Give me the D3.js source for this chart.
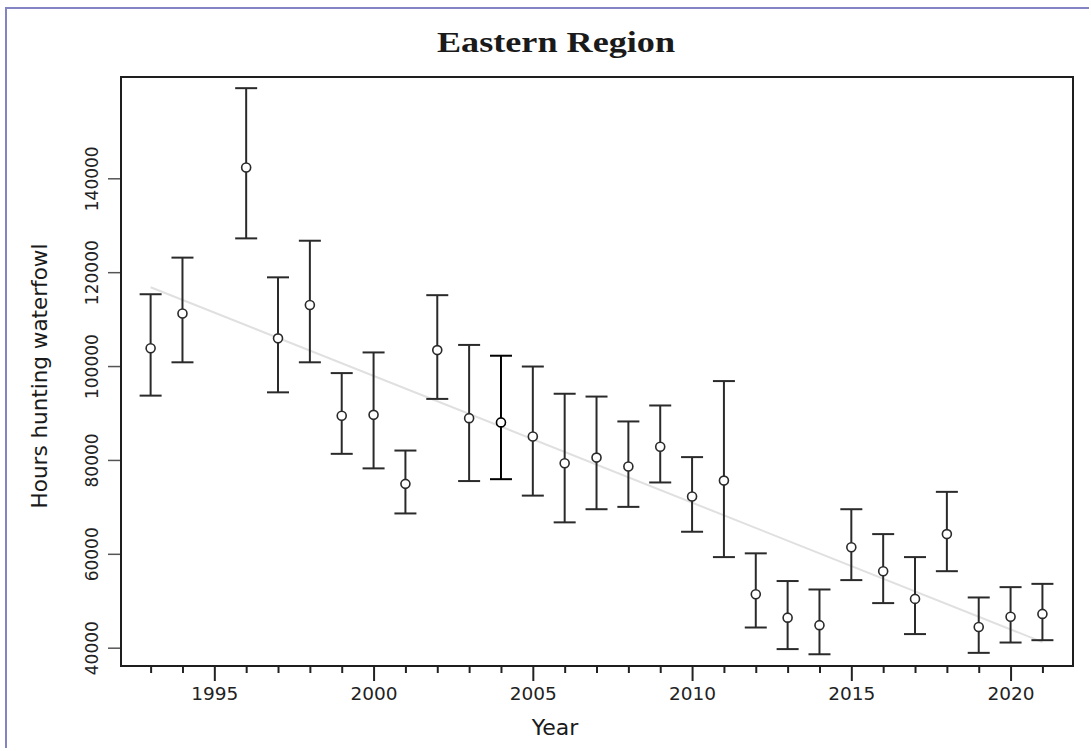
<!DOCTYPE html>
<html>
<head>
<meta charset="utf-8">
<script src="https://cdn.jsdelivr.net/npm/d3@7"></script>
<style>
    body { margin: 0; background: #fff; }
    svg { display: block; }
    .axis text { font-family: 'DejaVu Sans', Verdana, sans-serif; fill: #222; }
</style>
</head>
<body>
<svg id="chart"></svg>
<script>
const width = 1091;
const height = 751;

// values (1995 has no estimate)
const years = [1993, 1994, 1996, 1997, 1998, 1999, 2000, 2001, 2002, 2003, 2004, 2005,
    2006, 2007, 2008, 2009, 2010, 2011, 2012, 2013, 2014, 2015, 2016, 2017, 2018, 2019, 2020, 2021];
const estimates = [103800, 111200, 142300, 105900, 113000, 89400, 89600, 74900, 103400, 88900, 88000, 85000,
    79300, 80500, 78600, 82800, 72200, 75600, 51400, 46400, 44800, 61400, 56300, 50400, 64200, 44400, 46600, 47200];
const upper = [115300, 123100, 159200, 118900, 126700, 98500, 102900, 82000, 115100, 104500, 102200, 99900,
    94100, 93500, 88200, 91600, 80600, 96800, 60100, 54200, 52400, 69500, 64200, 59300, 73200, 50700, 52900, 53600];
const lower = [93700, 100800, 127200, 94400, 100800, 81300, 78200, 68600, 93000, 75500, 75900, 72400,
    66700, 69500, 70000, 75200, 64700, 59300, 44300, 39700, 38600, 54400, 49500, 42900, 56300, 38900, 41100, 41600];

const trendYears = [1993, 2021];
const trendValues = [116800, 41200];

const xTicks = d3.range(1993, 2022);
const yTicks = [40000, 60000, 80000, 100000, 120000, 140000];

const plot = { left: 121, right: 1073, top: 77, bottom: 666 };

const dataset = years.map((year, i) => ({
    year,
    estimate: estimates[i],
    upper: upper[i],
    lower: lower[i]
}));

let svg = d3.select('#chart')
    .attr('width', width)
    .attr('height', height);

// outer frame of the picture
svg.append('path')
    .attr('d', `M6,${height - 3} L6,8 L${width - 2},8`)
    .attr('fill', 'none')
    .attr('stroke', '#8284c4')
    .attr('stroke-width', 2);

let xScale = d3.scaleLinear()
    .domain([1992.07, 2021.96])
    .range([plot.left, plot.right]);

let yScale = d3.scaleLinear()
    .domain([36100, 161580])
    .range([plot.bottom, plot.top]);

// title
svg.append('text')
    .attr('x', 556)
    .attr('y', 52)
    .attr('text-anchor', 'middle')
    .attr('textLength', 238)
    .attr('lengthAdjust', 'spacingAndGlyphs')
    .style('font-family', "'Liberation Serif', 'Times New Roman', serif")
    .style('font-weight', 'bold')
    .style('font-size', '30px')
    .style('fill', '#1a1a1a')
    .text('Eastern Region');

// trend line
const line = d3.line()
    .x(d => xScale(d[0]))
    .y(d => yScale(d[1]));

svg.append('path')
    .datum(trendYears.map((y, i) => [y, trendValues[i]]))
    .attr('d', line)
    .attr('fill', 'none')
    .attr('stroke', '#e0e0e0')
    .attr('stroke-width', 2);

// error bars
const capHalf = 11;
let bars = svg.append('g')
    .selectAll('g')
    .data(dataset)
    .enter()
    .append('g')
    .attr('stroke', d => d.year === 2004 ? '#000' : '#2a2a2a')
    .attr('stroke-width', 2)
    .attr('fill', 'none');

bars.append('line')
    .attr('x1', d => xScale(d.year))
    .attr('x2', d => xScale(d.year))
    .attr('y1', d => yScale(d.upper))
    .attr('y2', d => yScale(d.lower));

bars.append('line')
    .attr('x1', d => xScale(d.year) - capHalf)
    .attr('x2', d => xScale(d.year) + capHalf)
    .attr('y1', d => yScale(d.upper))
    .attr('y2', d => yScale(d.upper));

bars.append('line')
    .attr('x1', d => xScale(d.year) - capHalf)
    .attr('x2', d => xScale(d.year) + capHalf)
    .attr('y1', d => yScale(d.lower))
    .attr('y2', d => yScale(d.lower));

bars.append('circle')
    .attr('cx', d => xScale(d.year))
    .attr('cy', d => yScale(d.estimate))
    .attr('r', 4.5)
    .attr('fill', 'white')
    .attr('stroke-width', 1.6);

// axes
let xAxis = d3.axisBottom(xScale)
    .tickValues(xTicks)
    .tickSize(7)
    .tickSizeOuter(0)
    .tickFormat(d => d % 5 === 0 ? d : '');

let xAxisGroup = svg.append('g')
    .attr('class', 'axis')
    .attr('transform', `translate(0, ${plot.bottom})`)
    .call(xAxis);

xAxisGroup.select('.domain').remove();
xAxisGroup.selectAll('.tick line')
    .attr('stroke', '#222')
    .attr('stroke-width', 2)
    .attr('y2', d => d % 5 === 0 ? 15 : 7);
xAxisGroup.selectAll('.tick text')
    .attr('y', 21)
    .style('font-size', '18.5px');

let yAxis = d3.axisLeft(yScale)
    .tickValues(yTicks)
    .tickSize(13)
    .tickSizeOuter(0)
    .tickFormat(d3.format('d'));

let yAxisGroup = svg.append('g')
    .attr('class', 'axis')
    .attr('transform', `translate(${plot.left}, 0)`)
    .call(yAxis);

yAxisGroup.select('.domain').remove();
yAxisGroup.selectAll('.tick line')
    .attr('stroke', '#555')
    .attr('stroke-width', 1.5);
yAxisGroup.selectAll('.tick text')
    .attr('x', 0)
    .attr('y', 0)
    .attr('dy', 0)
    .attr('text-anchor', 'middle')
    .attr('transform', 'translate(-23, 0) rotate(-90)')
    .style('font-size', '17px');

// plot frame
svg.append('rect')
    .attr('x', plot.left)
    .attr('y', plot.top)
    .attr('width', plot.right - plot.left)
    .attr('height', plot.bottom - plot.top)
    .attr('fill', 'none')
    .attr('stroke', '#1e1e1e')
    .attr('stroke-width', 2);

// axis titles
svg.append('text')
    .attr('x', 555)
    .attr('y', 735)
    .attr('text-anchor', 'middle')
    .style('font-family', "'DejaVu Sans', Verdana, sans-serif")
    .style('font-size', '22px')
    .style('fill', '#1a1a1a')
    .text('Year');

svg.append('text')
    .attr('transform', 'translate(47, 376) rotate(-90)')
    .attr('text-anchor', 'middle')
    .style('font-family', "'DejaVu Sans', Verdana, sans-serif")
    .style('font-size', '21.5px')
    .style('fill', '#1a1a1a')
    .text('Hours hunting waterfowl');
</script>
</body>
</html>
